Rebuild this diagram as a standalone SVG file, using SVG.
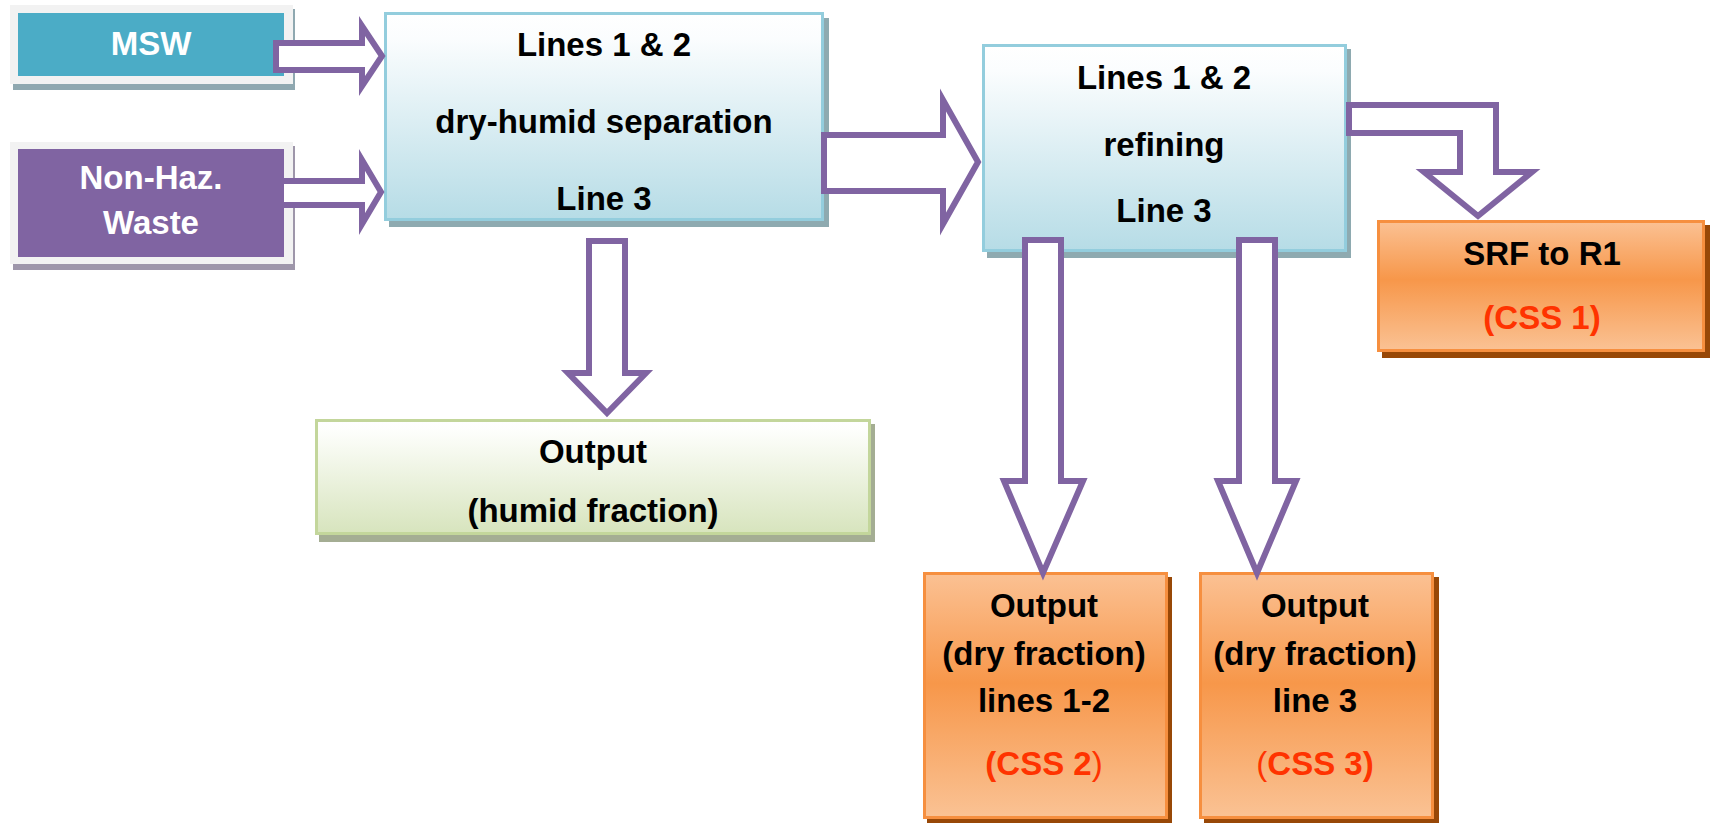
<svg xmlns="http://www.w3.org/2000/svg" width="1713" height="823" viewBox="0 0 1713 823">
<defs>
<linearGradient id="gBlue" x1="0" y1="0" x2="0" y2="1">
<stop offset="0" stop-color="#ffffff"/><stop offset="0.12" stop-color="#fbfdfe"/><stop offset="1" stop-color="#b6dce6"/>
</linearGradient>
<linearGradient id="gGreen" x1="0" y1="0" x2="0" y2="1">
<stop offset="0" stop-color="#ffffff"/><stop offset="0.1" stop-color="#fdfefb"/><stop offset="1" stop-color="#d7e4bd"/>
</linearGradient>
<linearGradient id="gOrange" x1="0" y1="0" x2="0" y2="1">
<stop offset="0" stop-color="#fbc193"/><stop offset="0.45" stop-color="#f7974a"/><stop offset="1" stop-color="#fac294"/>
</linearGradient>
<style>
text{font-family:"Liberation Sans",Arial,sans-serif;font-weight:bold;font-size:33px;text-anchor:middle;fill:#000}
.w{fill:#ffffff}
.red{fill:#ff3300}
.thin{font-weight:normal}
.blue{fill:url(#gBlue);stroke:#93cddd;stroke-width:3}
.green{fill:url(#gGreen);stroke:#c3d69b;stroke-width:3}
.orange{fill:url(#gOrange);stroke:#f68f3f;stroke-width:3}
.shB{fill:#8eaab0}
.shG{fill:#a4ad93}
.shO{fill:#984807}
.frame{fill:#f2f2f2}
.arrow{fill:#ffffff;stroke:#8064a2;stroke-width:6;stroke-linejoin:miter}
</style>
</defs>
<rect width="1713" height="823" fill="#ffffff"/>

<g id="node-msw">
<rect x="13" y="9" width="282" height="81" fill="#8fa8b0"/>
<rect class="frame" x="10" y="5" width="283" height="79"/>
<rect x="18" y="13" width="266" height="63" fill="#4bacc6"/>
<text class="w" x="151" y="55">MSW</text>
</g>

<g id="node-nonhaz">
<rect x="13" y="146" width="282" height="124" fill="#9e96aa"/>
<rect class="frame" x="10" y="142" width="283" height="122"/>
<rect x="18" y="149" width="266" height="108" fill="#8064a2"/>
<text class="w" x="151" y="189">Non-Haz.</text>
<text class="w" x="151" y="234">Waste</text>
</g>

<g id="node-separation">
<rect class="shB" x="389" y="18" width="440" height="209"/>
<rect class="blue" x="385.5" y="13.5" width="437" height="206"/>
<text x="604" y="56">Lines 1 &amp; 2</text>
<text x="604" y="133">dry-humid separation</text>
<text x="604" y="210">Line 3</text>
</g>

<g id="node-refining">
<rect class="shB" x="987" y="49" width="364" height="209"/>
<rect class="blue" x="983.5" y="45.5" width="362" height="205"/>
<text x="1164" y="89">Lines 1 &amp; 2</text>
<text x="1164" y="156">refining</text>
<text x="1164" y="222">Line 3</text>
</g>

<g id="node-humid">
<rect class="shG" x="319" y="424" width="556" height="118"/>
<rect class="green" x="316.5" y="420.5" width="553" height="113"/>
<text x="593" y="463">Output</text>
<text x="593" y="522">(humid fraction)</text>
</g>

<g id="node-srf">
<rect class="shO" x="1382" y="225" width="328" height="133"/>
<rect class="orange" x="1378.5" y="221.5" width="325" height="129"/>
<text x="1542" y="265">SRF to R1</text>
<text class="red" x="1542" y="329">(CSS 1)</text>
</g>

<g id="node-css2">
<rect class="shO" x="927" y="577" width="245" height="250"/>
<rect class="orange" x="924.5" y="573.5" width="242" height="244"/>
<text x="1044" y="617">Output</text>
<text x="1044" y="665">(dry fraction)</text>
<text x="1044" y="712">lines 1-2</text>
<text class="red" x="1044" y="775">(CSS 2<tspan class="thin">)</tspan></text>
</g>

<g id="node-css3">
<rect class="shO" x="1204" y="577" width="235" height="250"/>
<rect class="orange" x="1200.5" y="573.5" width="232" height="244"/>
<text x="1315" y="617">Output</text>
<text x="1315" y="665">(dry fraction)</text>
<text x="1315" y="712">line 3</text>
<text class="red" x="1315" y="775"><tspan class="thin">(</tspan>CSS 3)</text>
</g>

<g id="connectors">
<path class="arrow" d="M276,43 H362 V26 L382,56 L362,86 V70 H276 Z"/>
<path class="arrow" d="M281,181 H362 V160 L381,192 L362,224 V205 H281 Z"/>
<path class="arrow" d="M824,135 H943 V100 L978,162 L943,224 V191 H824 Z"/>
<path class="arrow" d="M1349,105 H1496 V172 H1532 L1478,216 L1424,172 H1460 V133 H1349 Z"/>
<path class="arrow" d="M589,241 H625 V373 H646 L607,413 L568,373 H589 Z"/>
<path class="arrow" d="M1025,240 H1061 V481 H1083 L1043,573 L1004,481 H1025 Z"/>
<path class="arrow" d="M1239,240 H1275 V481 H1296 L1257,573 L1218,481 H1239 Z"/>
</g>
</svg>
